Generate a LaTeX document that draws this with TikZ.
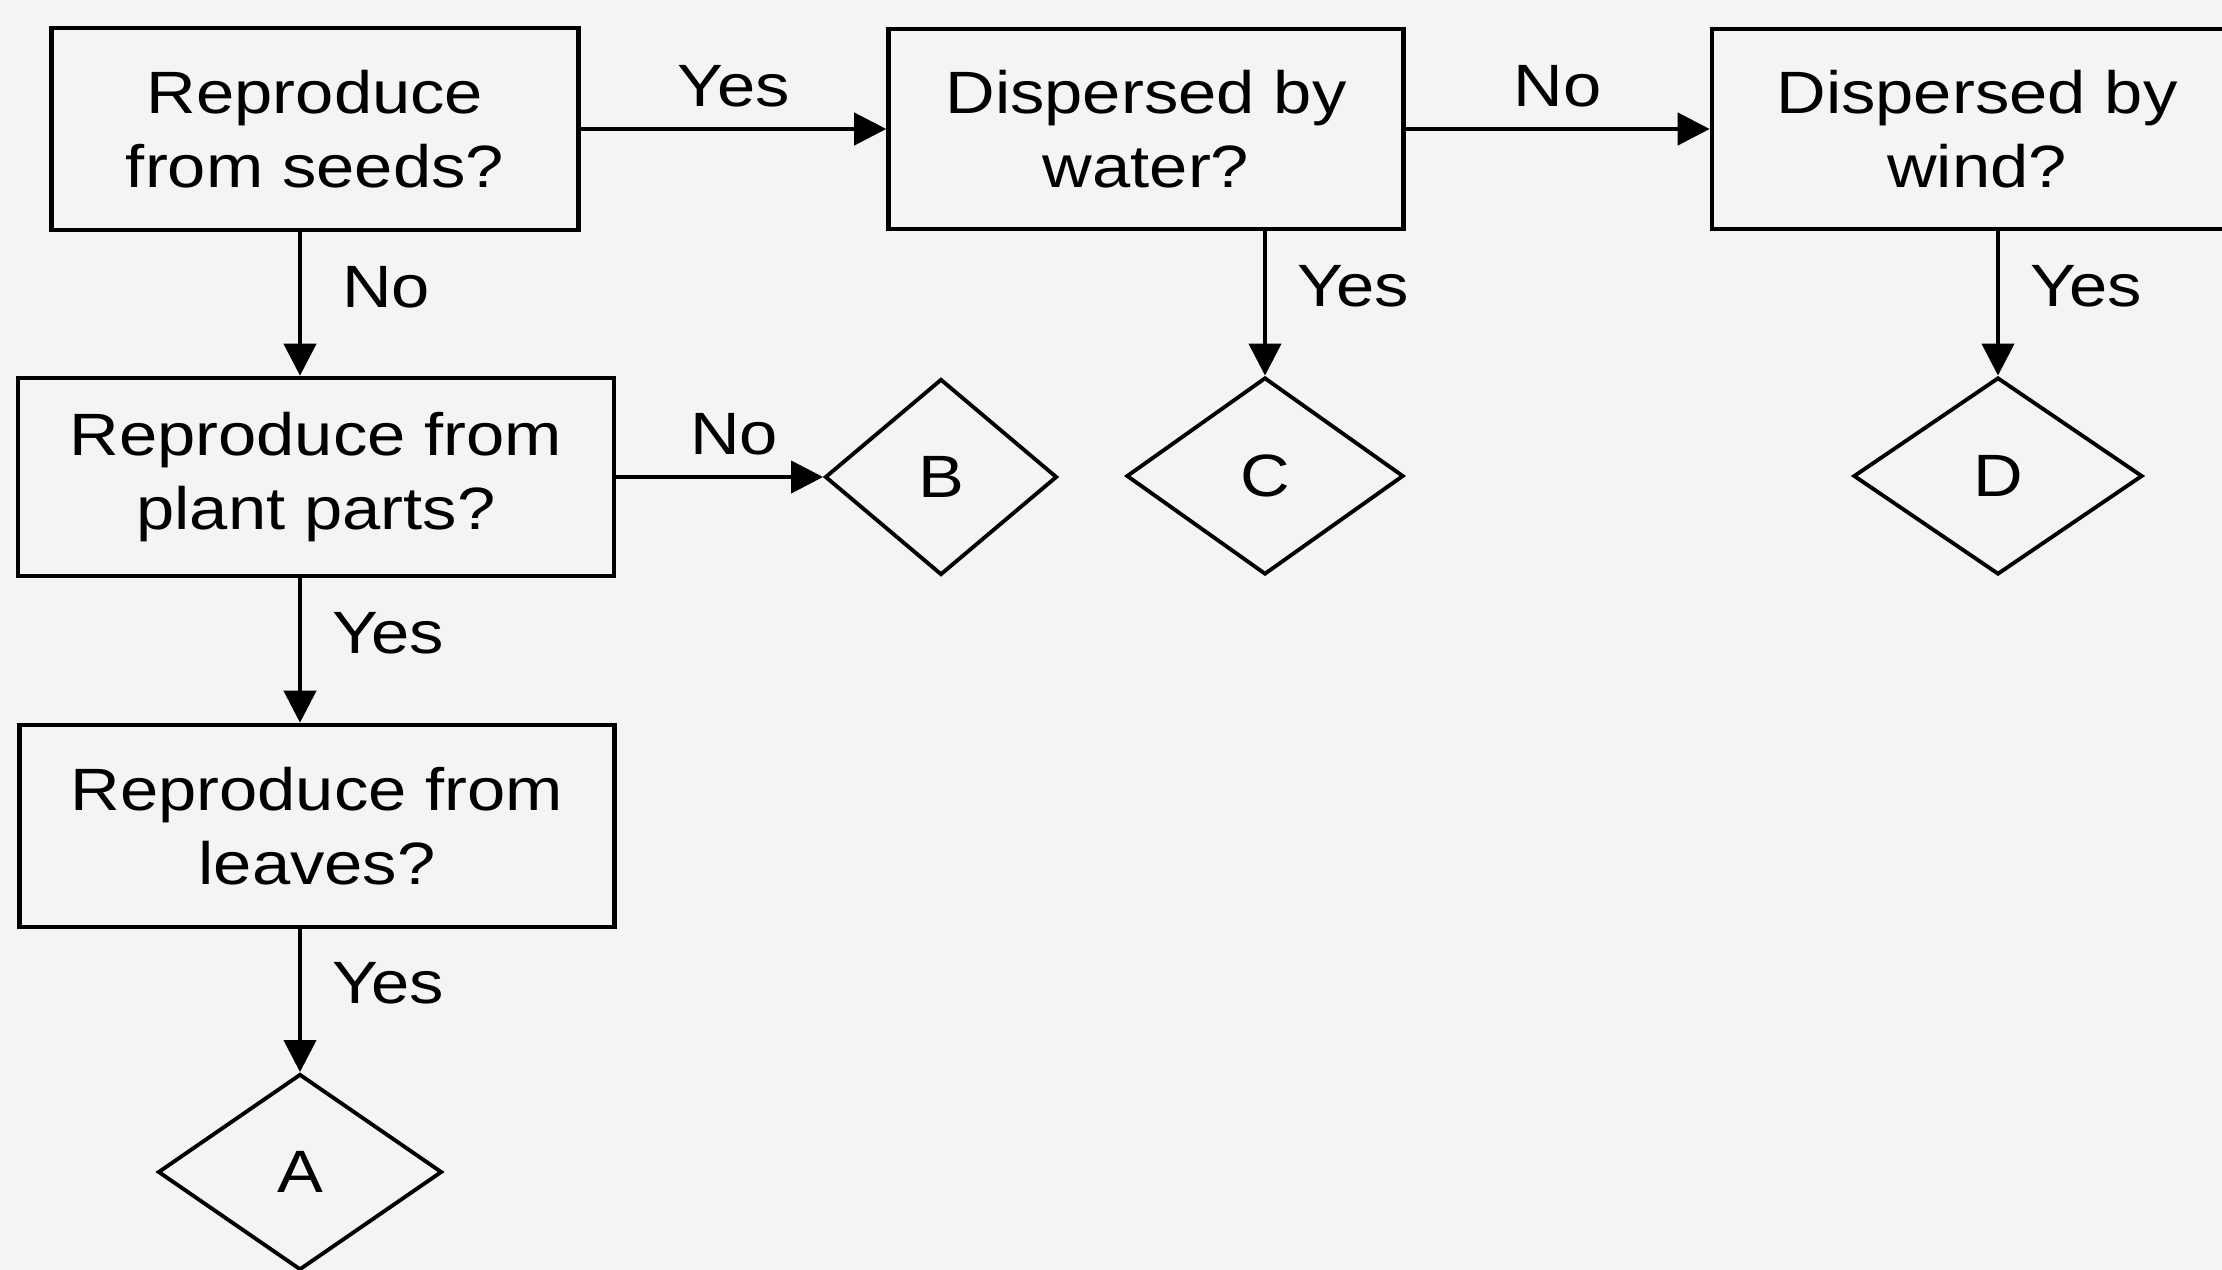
\documentclass[tikz,border=0pt]{standalone}
\usepackage{fontspec}
\setmainfont{Liberation Sans}[FakeStretch=1.15]
\usetikzlibrary{calc}
\usetikzlibrary{positioning}
\usetikzlibrary{shapes.geometric}
\usetikzlibrary{arrows.meta}
\definecolor{paper}{HTML}{F4F4F4}
\tikzstyle{qnode} = [draw, rectangle, line width=1.3pt, inner sep=0, align=center]
\tikzstyle{leafnode} = [draw, diamond, line width=1.1pt, inner sep=0]
\tikzstyle{flow} = [line width=1.2pt, -{Triangle[length=0.32cm, width=0.32cm]}]
\tikzstyle{ans} = [inner sep=0]

\begin{document}
\begin{tikzpicture}[font=\fontsize{17pt}{21pt}\selectfont]
    \useasboundingbox (0,0) rectangle (22.22,-12.70);
    \fill[paper] (0,0) rectangle (22.22,-12.70);

    \node[qnode, minimum width=5.27cm, minimum height=2.02cm] (seeds) at (3.15,-1.29) {Reproduce\\from seeds?};
    \node[qnode, minimum width=5.15cm, minimum height=2.00cm] (water) at ($(seeds)+(8.31,0)$) {Dispersed by\\water?};
    \node[qnode, minimum width=5.30cm, minimum height=2.00cm] (wind) at ($(water)+(8.31,0)$) {Dispersed by\\wind?};
    \node[qnode, minimum width=5.96cm, minimum height=1.98cm] (parts) at ($(seeds)+(0.01,-3.48)$) {Reproduce from\\plant parts?};
    \node[qnode, minimum width=5.95cm, minimum height=2.02cm] (leaves) at ($(parts)+(0.01,-3.49)$) {Reproduce from\\leaves?};

    \node[leafnode, minimum width=2.32cm, minimum height=1.96cm] (endB) at ($(parts)+(6.25,0)$) {B};
    \node[leafnode, minimum width=2.77cm, minimum height=1.97cm] (endC) at ($(water)+(1.19,-3.47)$) {C};
    \node[leafnode, minimum width=2.89cm, minimum height=1.97cm] (endD) at ($(wind)+(0.21,-3.47)$) {D};
    \node[leafnode, minimum width=2.84cm, minimum height=1.96cm] (endA) at ($(leaves)+(-0.17,-3.46)$) {A};

    \draw[flow] (seeds) -- node[ans, above=0.2cm] {Yes} (water);
    \draw[flow] (water) -- node[ans, above=0.2cm] {No} (wind);
    \draw[flow] (parts) -- node[ans, pos=0.57, above=0.2cm] {No} (endB);
    \draw[flow] (seeds.south -| endA) -- node[ans, pos=0.38, right=0.4cm] {No} (parts.north -| endA);
    \draw[flow] (parts.south -| endA) -- node[ans, pos=0.38, right=0.3cm] {Yes} (leaves.north -| endA);
    \draw[flow] (leaves.south -| endA) -- node[ans, pos=0.38, right=0.3cm] {Yes} (endA);
    \draw[flow] (water.south -| endC) -- node[ans, pos=0.38, right=0.3cm] {Yes} (endC);
    \draw[flow] (wind.south -| endD) -- node[ans, pos=0.38, right=0.3cm] {Yes} (endD);
\end{tikzpicture}
\end{document}
